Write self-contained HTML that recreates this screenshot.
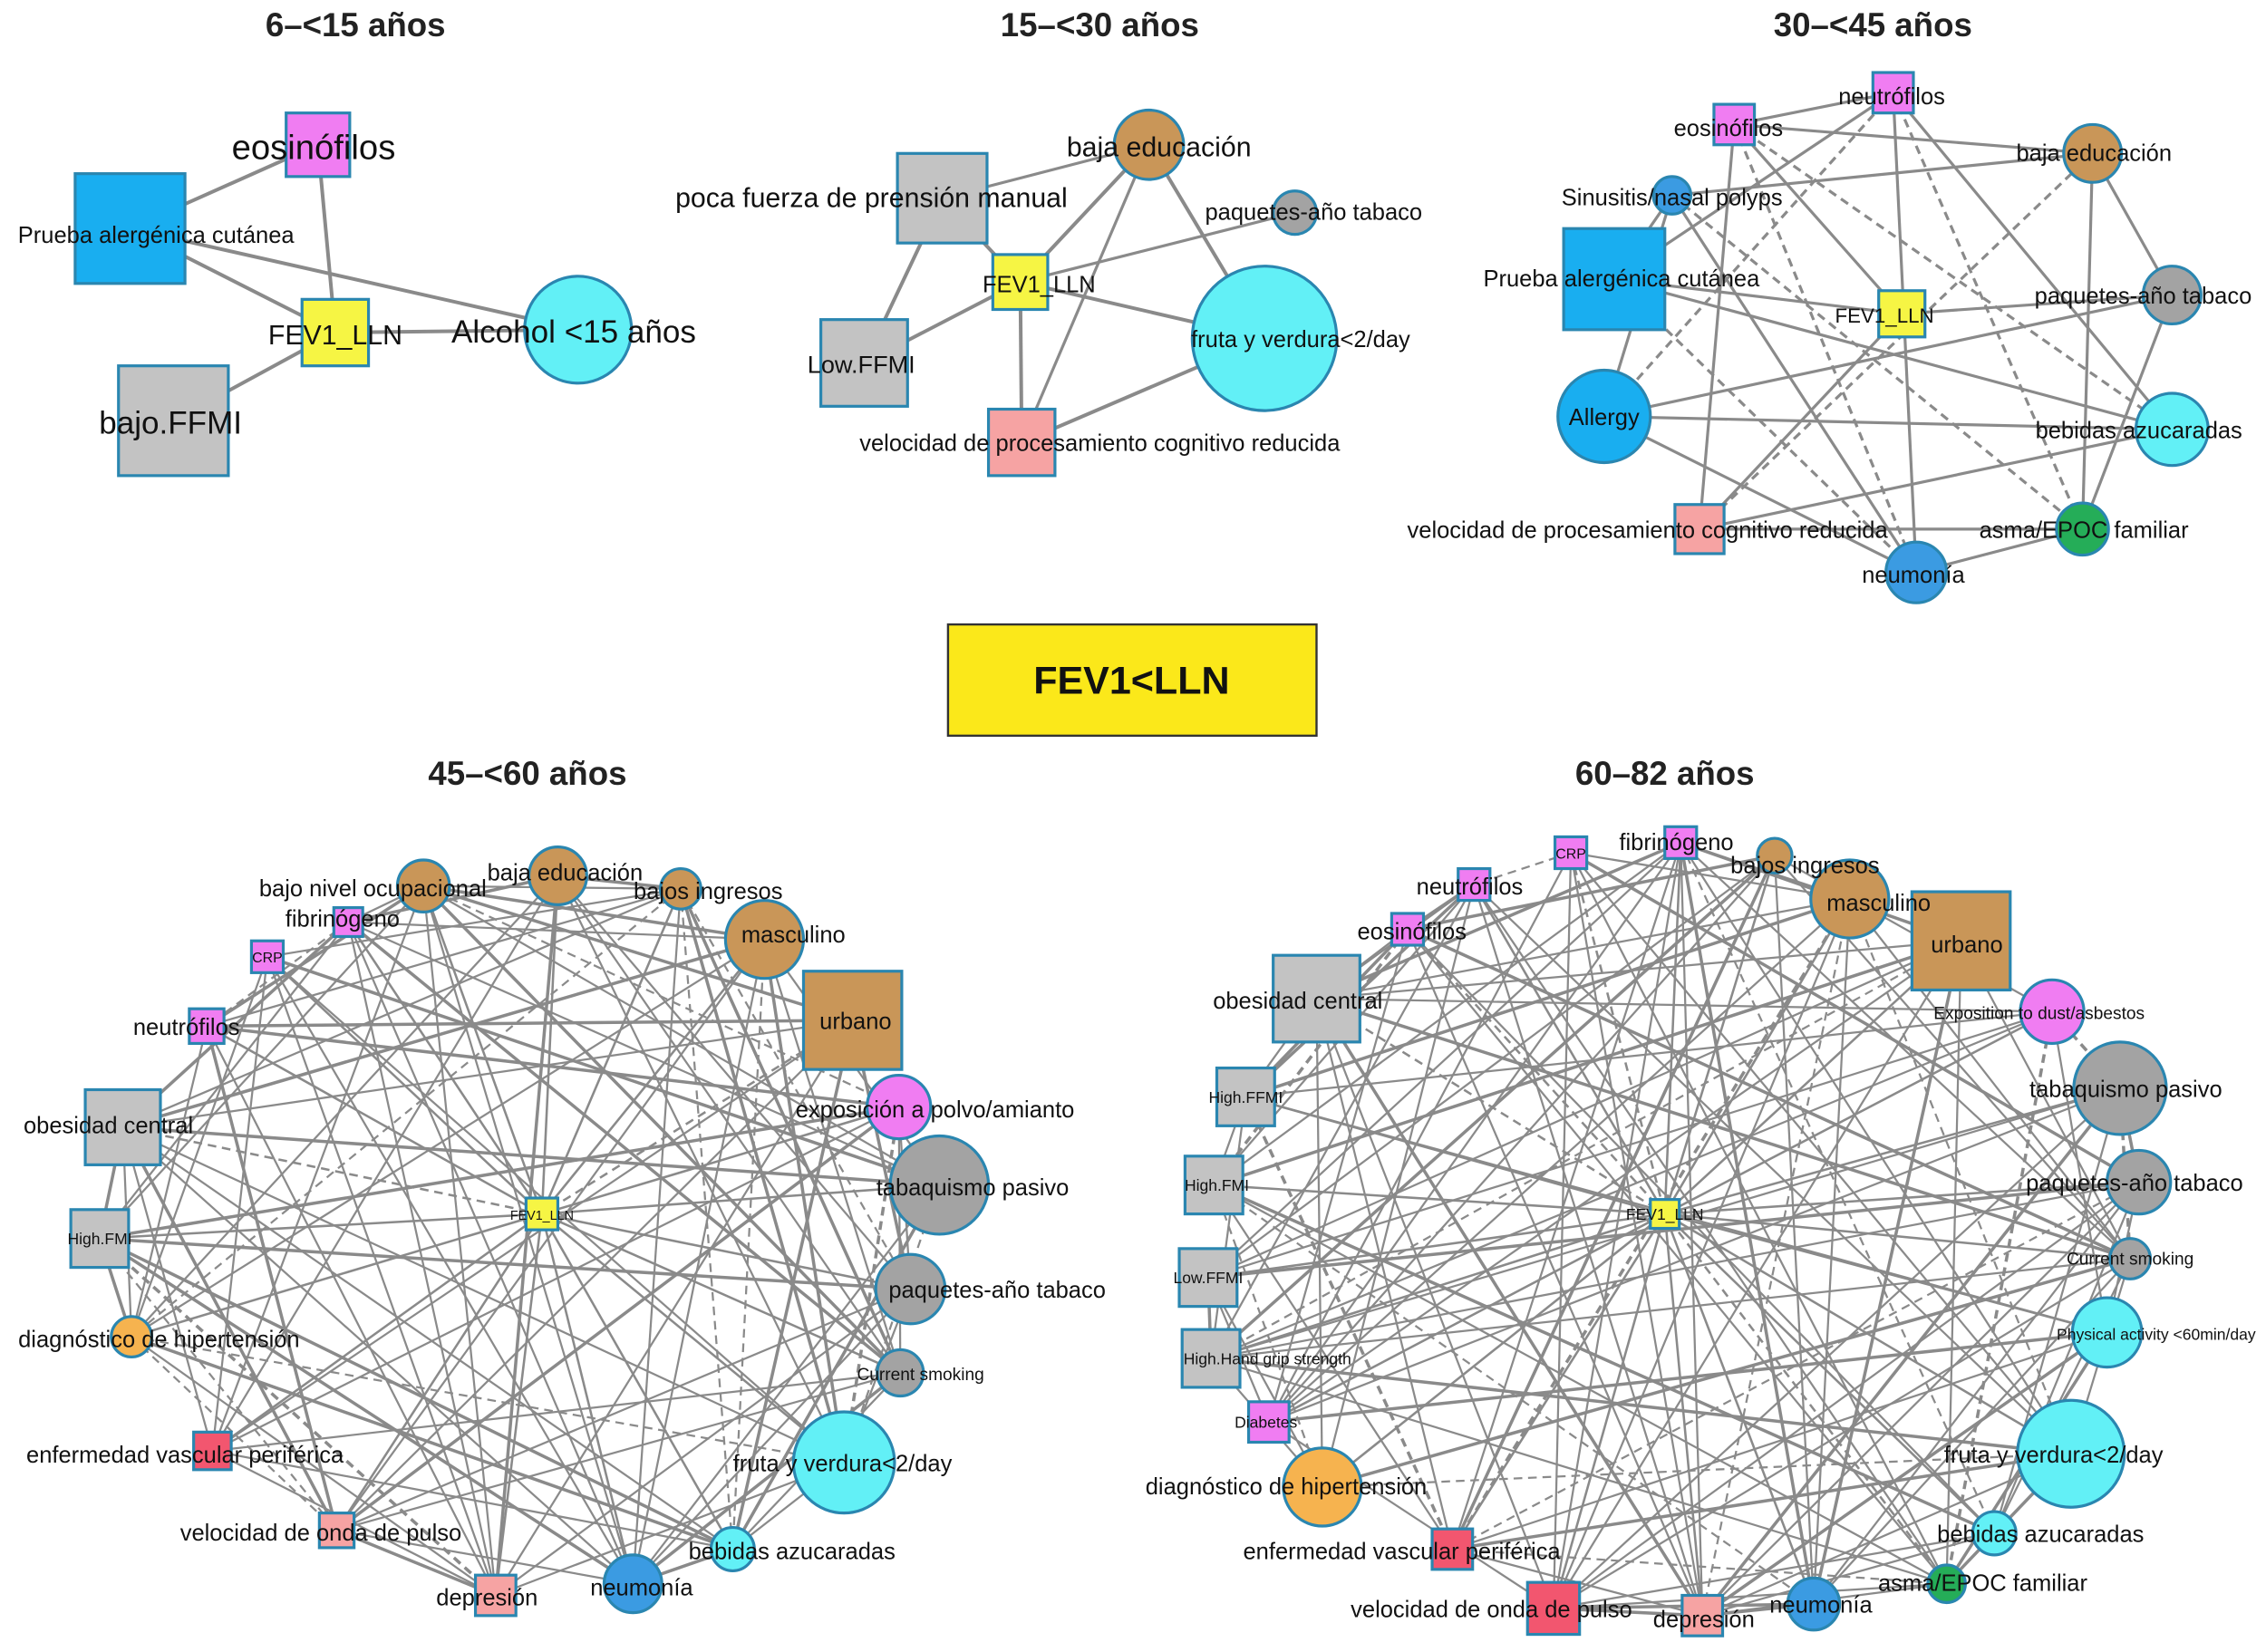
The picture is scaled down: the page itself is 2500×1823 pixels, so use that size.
<!DOCTYPE html>
<html><head><meta charset="utf-8">
<style>
html,body{margin:0;padding:0;background:#fff;}
svg{display:block;}
text{font-family:"Liberation Sans",Arial,sans-serif;fill:#111;}
.t{font-weight:bold;font-size:23px;fill:#222;}
</style></head>
<body>
<svg id="s" width="2500" height="1823" viewBox="0 0 1568 1143" xmlns="http://www.w3.org/2000/svg">
<rect width="1568" height="1143" fill="#fff"/>
<g id="edges"></g>
<g id="nodes"></g>
<g id="labels"></g>
<text class="t" x="246" y="25" text-anchor="middle">6–&lt;15 años</text>
<text class="t" x="761" y="25" text-anchor="middle">15–&lt;30 años</text>
<text class="t" x="1296" y="25" text-anchor="middle">30–&lt;45 años</text>
<text class="t" x="365" y="543" text-anchor="middle">45–&lt;60 años</text>
<text class="t" x="1152" y="543" text-anchor="middle">60–82 años</text>
<rect x="656" y="432" width="255" height="77" fill="#fbe81a" stroke="#333" stroke-width="1.5"/>
<text x="783" y="480" text-anchor="middle" style="font-weight:bold;font-size:27px">FEV1&lt;LLN</text>
</svg>
<script>
var NS="http://www.w3.org/2000/svg";
var E=document.getElementById("edges"),N=document.getElementById("nodes"),L=document.getElementById("labels");
function el(p,t,a,txt){var e=document.createElementNS(NS,t);for(var k in a)e.setAttribute(k,a[k]);if(txt)e.textContent=txt;p.appendChild(e);return e;}
var C={blue:"#19aef0",pink:"#f07df2",yel:"#f6f544",cyan:"#62f0f6",gray:"#c3c3c3",brown:"#c99658",gc:"#a3a3a3",sal:"#f6a3a3",red:"#f2566f",green:"#25ad58",bc:"#3b9be2",or:"#f6b34f"};
// [shape,x,y,size,color,label,lx,ly,fs,anchor]
function panel(nodes,edges,dashed){
 edges.forEach(function(e,i){var a=nodes[e[0]],b=nodes[e[1]];
  var at={x1:a[1],y1:a[2],x2:b[1],y2:b[2],stroke:"#8a8a8a","stroke-width":e[2]||1.6};
  if(e[3])at["stroke-dasharray"]="6,4";
  el(E,"line",at);});
 nodes.forEach(function(n){
  var st={fill:C[n[4]],stroke:"#2a86b0","stroke-width":2};
  if(n[0]=="s"){st.x=n[1]-n[3]/2;st.y=n[2]-n[3]/2;st.width=n[3];st.height=n[3];el(N,"rect",st);}
  else{st.cx=n[1];st.cy=n[2];st.r=n[3];el(N,"circle",st);}
  if(n[5])el(L,"text",{x:n[6]!=null?n[6]:n[1],y:n[7]!=null?n[7]:n[2]+5,"font-size":n[8]||16,"text-anchor":n[9]||"middle"},n[5]);
 });
}
// Panel 1
var p1=[["s",220,100,44,"pink","eosinófilos",217,110,24],["s",90,158,76,"blue","Prueba alergénica cutánea",108,168,16],
["s",232,230,46,"yel","FEV1_LLN",232,238,19],["c",400,228,37,"cyan","Alcohol <15 años",397,237,22],["s",120,291,76,"gray","bajo.FFMI",118,300,22]];
panel(p1,[[0,1,2.5],[1,2,2.5],[1,3,2.5],[0,2,2.5],[2,3,2.5],[2,4,2.5]]);
// Panel 2
var p2=[["c",795,100,24,"brown","baja educación",802,108,19],["s",652,137,62,"gray","poca fuerza de prensión manual",603,143,19],
["c",896,147,15,"gc","paquetes-año tabaco",909,152,16],["s",706,195,38,"yel","FEV1_LLN",719,202,16],["c",875,234,50,"cyan","fruta y verdura<2/day",900,240,16],
["s",598,251,60,"gray","Low.FFMI",596,258,17],["s",707,306,46,"sal","velocidad de procesamiento cognitivo reducida",761,312,16]];
panel(p2,[[0,3,2.5],[0,4,2.5],[0,6,2],[1,3,2.5],[1,5,2.5],[3,4,2.5],[3,6,2.5],[3,5,2.5],[4,6,2.5],[0,1,2],[2,3,2],[3,0,2]]);
// Panel 3
var p3=[["s",1310,64,28,"pink","neutrófilos",1309,72,16],["s",1200,86,28,"pink","eosinófilos",1196,94,16],["c",1448,106,20,"brown","baja educación",1449,111,16],
["c",1157,135,13,"bc","Sinusitis/nasal polyps",1157,142,16],["s",1117,193,70,"blue","Prueba alergénica cutánea",1122,198,16],["s",1316,217,32,"yel","FEV1_LLN",1304,223,14],
["c",1503,204,20,"gc","paquetes-año tabaco",1483,210,16],["c",1110,288,32,"blue","Allergy",1110,294,16],["c",1503,297,25,"cyan","bebidas azucaradas",1480,303,16],
["s",1176,366,34,"sal","velocidad de procesamiento cognitivo reducida",1140,372,16],["c",1441,366,18,"green","asma/EPOC familiar",1442,372,16],["c",1326,396,21,"bc","neumonía",1324,403,16]];
var e3=[];for(var i=0;i<p3.length;i++)for(var j=i+1;j<p3.length;j++){var h=(i*7+j*13)%10;if(h<5)e3.push([i,j,2,h<2]);}
panel(p3,e3);
// Panel 4
var p4=[["c",293,613,18,"brown","bajo nivel ocupacional",258,620,16],["c",386,606,20,"brown","baja educación",391,609,16],["c",471,615,14,"brown","bajos ingresos",490,622,16],
["s",241,638,20,"pink","fibrinógeno",237,641,16],["s",185,662,22,"pink","CRP",185,666,10],["c",529,650,27,"brown","masculino",549,652,16],
["s",590,706,68,"brown","urbano",592,712,16],["s",143,710,24,"pink","neutrófilos",129,716,16],["c",622,766,22,"pink","exposición a polvo/amianto",647,773,16],
["s",85,780,52,"gray","obesidad central",75,784,16],["c",650,820,34,"gc","tabaquismo pasivo",673,827,16],["s",375,840,22,"yel","FEV1_LLN",375,844,9],
["s",69,857,40,"gray","High.FMI",69,861,11],["c",630,892,24,"gc","paquetes-año tabaco",690,898,16],["c",91,925,14,"or","diagnóstico de hipertensión",110,932,16],
["c",623,950,16,"gc","Current smoking",637,955,12],["s",147,1004,26,"red","enfermedad vascular periférica",128,1012,16],["c",584,1012,35,"cyan","fruta y verdura<2/day",583,1018,16],
["s",233,1059,24,"sal","velocidad de onda de pulso",222,1066,16],["c",507,1072,15,"cyan","bebidas azucaradas",548,1079,16],["s",343,1104,28,"sal","depresión",337,1111,16],["c",438,1096,20,"bc","neumonía",444,1104,16]];
// Panel 5
var p5=[["s",1163,583,22,"pink","fibrinógeno",1160,588,16],["s",1087,590,22,"pink","CRP",1087,594,10],["c",1228,592,12,"brown","bajos ingresos",1249,604,16],
["s",1020,612,22,"pink","neutrófilos",1017,619,16],["c",1280,622,27,"brown","masculino",1300,630,16],["s",974,643,22,"pink","eosinófilos",977,650,16],
["s",1357,651,68,"brown","urbano",1361,659,16],["s",911,691,60,"gray","obesidad central",898,698,16],["c",1420,700,22,"pink","Exposition to dust/asbestos",1411,705,12],
["c",1467,753,32,"gc","tabaquismo pasivo",1471,759,16],["s",862,759,40,"gray","High.FFMI",862,763,11],["s",840,820,40,"gray","High.FMI",842,824,11],
["c",1480,818,22,"gc","paquetes-año tabaco",1477,824,16],["s",1152,840,20,"yel","FEV1_LLN",1152,844,11],["c",1474,871,14,"gc","Current smoking",1474,875,12],
["s",836,884,40,"gray","Low.FFMI",836,888,11],["c",1458,922,24,"cyan","Physical activity <60min/day",1492,927,11],["s",838,940,40,"gray","High.Hand grip strength",877,944,11],
["s",878,984,28,"pink","Diabetes",876,988,11],["c",1433,1006,37,"cyan","fruta y verdura<2/day",1421,1012,16],["c",915,1029,27,"or","diagnóstico de hipertensión",890,1034,16],
["c",1380,1061,15,"cyan","bebidas azucaradas",1412,1067,16],["s",1005,1072,28,"red","enfermedad vascular periférica",970,1079,16],["c",1347,1096,13,"green","asma/EPOC familiar",1372,1101,16],
["s",1075,1113,36,"red","velocidad de onda de pulso",1032,1119,16],["s",1178,1118,28,"sal","depresión",1179,1126,16],["c",1255,1110,18,"bc","neumonía",1260,1116,16]];
function dense(nodes,c,seed){var e=[],s=seed;function r(){s=(s*9301+49297)%233280;return s/233280;}
 for(var i=0;i<nodes.length;i++){if(i!=c)e.push([i,c,1.6,r()<0.15]);
  for(var j=i+1;j<nodes.length;j++){if(i==c||j==c)continue;if(r()<0.42)e.push([i,j,r()<0.3?2.2:1.4,r()<0.08]);}}
 return e;}
panel(p4,dense(p4,11,17));
panel(p5,dense(p5,13,29));
</script>
</body></html>
